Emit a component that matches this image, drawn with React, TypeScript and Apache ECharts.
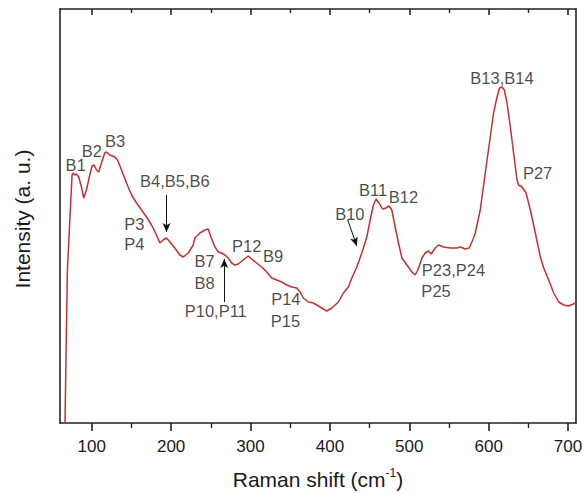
import React, { useEffect, useRef } from "react";
import * as echarts from "echarts";

// Raman shift (cm-1) and intensity (a.u.)
const ramanShift = [
  65.6, 66.3, 69.3, 75.2, 76.4, 78.6, 80.7, 83.6, 87.0, 89.9, 93.3, 97.5, 100.4, 102.9, 105.9, 108.8,
  112.2, 116.4, 118.5, 122.7, 129.0, 132.4, 137.5, 143.8, 150.1, 156.4, 162.7, 169.0, 175.3, 181.6,
  185.8, 190.0, 194.2, 198.4, 204.7, 211.0, 215.2, 221.5, 227.8, 229.9, 236.2, 242.5, 246.7, 250.1,
  255.2, 259.3, 263.6, 267.8, 271.9, 276.2, 280.4, 284.5, 290.8, 297.2, 301.4, 307.7, 314.1, 320.4,
  326.7, 333.0, 339.3, 345.6, 351.9, 358.2, 362.4, 366.5, 372.8, 379.1, 385.5, 391.8, 396.1, 402.4,
  410.7, 417.0, 423.3, 427.6, 433.9, 440.2, 446.5, 450.7, 454.8, 458.2, 462.0, 466.2, 470.5, 474.6,
  478.0, 482.2, 486.4, 490.7, 497.0, 503.3, 507.4, 510.8, 515.9, 520.0, 524.2, 527.6, 532.7, 536.8,
  543.1, 551.6, 560.0, 564.2, 570.5, 575.5, 581.0, 583.1, 589.4, 595.7, 602.0, 606.2, 610.5, 613.7,
  616.8, 619.7, 623.1, 627.3, 631.4, 635.7, 637.7, 642.0, 647.1, 652.5, 658.8, 665.1, 669.3, 675.6,
  681.9, 688.2, 694.5, 700.8, 709.3,
];
const intensity = [
  -10, 0, 153, 248, 250, 248, 249, 246, 236, 225, 233, 248, 257, 258, 253, 251,
  260, 270, 271, 268, 266, 263, 253, 240, 228, 220, 213, 206, 198, 188,
  180, 183, 185, 181, 175, 168, 166, 170, 178, 185, 190, 193, 194, 186,
  176, 171, 170, 168, 165, 160, 158, 159, 163, 167, 164, 160, 156, 151,
  145, 143, 141, 138, 136, 135, 131, 125, 121, 120, 117, 114, 112, 115,
  121, 130, 136, 145, 156, 170, 186, 203, 218, 224, 220, 214, 215, 217,
  213, 196, 180, 165, 158, 151, 148, 153, 165, 170, 172, 169, 175, 178,
  176, 175, 175, 176, 174, 175, 185, 190, 213, 250, 286, 310, 326, 335,
  336, 333, 320, 296, 270, 243, 238, 236, 230, 213, 190, 166, 155, 143,
  130, 121, 118, 117, 120,
];

// Peak annotations (label text and its centre in data coordinates)
const annotationText = [
  "B1", "B2", "B3", "B4,B5,B6", "P3", "P4", "B7", "B8", "P10,P11", "P12",
  "B9", "P14", "P15", "B10", "B11", "B12", "P23,P24", "P25", "B13,B14", "P27",
];
const annotationX = [
  79.8, 100, 129.4, 204.7, 153.6, 153.6, 242.2, 242.2, 256.2, 295.1,
  328.3, 344.5, 344.1, 425.1, 454.4, 492.7, 555.7, 533.7, 616.8, 661.6,
];
const annotationY = [
  258.3, 272.5, 281.7, 242, 199, 179, 162.5, 140.5, 112, 177,
  167.5, 124, 102, 209, 233, 226, 153.3, 132, 345, 250.5,
];

// Arrows: start and tip in data coordinates
const arrowFromX = [194.2, 266.9, 422.5];
const arrowFromY = [228, 121, 203];
const arrowToX = [194.2, 266.9, 433.9];
const arrowToY = [191, 164, 177];

const majorTicks = [100, 200, 300, 400, 500, 600, 700];
const minorTicks = [150, 250, 350, 450, 550, 650];

const X_MIN = 60;
const X_MAX = 710;
const Y_MIN = 0;
const Y_MAX = 414;

const AXIS_COLOR = "#222";
const TEXT_COLOR = "#1a1a1a";
const LINE_COLOR = "#c62f33";
const FONT = "Liberation Sans, Arial, sans-serif";

export default function App() {
  const ref = useRef<HTMLDivElement>(null);

  useEffect(() => {
    if (!ref.current) return;
    const chart = echarts.init(ref.current, null, { renderer: "svg" });

    const baseX = {
      type: "value",
      min: X_MIN,
      max: X_MAX,
      splitLine: { show: false },
      axisLabel: { show: false },
    };

    const option: any = {
      animation: false,
      backgroundColor: "#ffffff",
      textStyle: { fontFamily: FONT },
      grid: { left: 60, right: 8, top: 9, bottom: 70, outerBoundsMode: "none" },
      xAxis: [
        {
          ...baseX,
          position: "bottom",
          axisLine: { show: true, onZero: false, lineStyle: { color: AXIS_COLOR, width: 1.6 } },
          axisTick: {
            show: true,
            inside: false,
            length: 8,
            customValues: majorTicks,
            lineStyle: { color: AXIS_COLOR, width: 1.6 },
          },
          axisLabel: {
            show: true,
            customValues: majorTicks,
            margin: 15,
            fontSize: 17,
            color: TEXT_COLOR,
            fontFamily: FONT,
          },
        },
        {
          ...baseX,
          position: "bottom",
          axisLine: { show: false, onZero: false },
          axisTick: {
            show: true,
            inside: false,
            length: 5,
            customValues: minorTicks,
            lineStyle: { color: AXIS_COLOR, width: 1.4 },
          },
        },
        {
          ...baseX,
          position: "top",
          axisLine: { show: true, onZero: false, lineStyle: { color: AXIS_COLOR, width: 1.6 } },
          axisTick: {
            show: true,
            inside: true,
            length: 6,
            customValues: majorTicks,
            lineStyle: { color: AXIS_COLOR, width: 1.6 },
          },
        },
        {
          ...baseX,
          position: "top",
          axisLine: { show: false, onZero: false },
          axisTick: {
            show: true,
            inside: true,
            length: 4,
            customValues: minorTicks,
            lineStyle: { color: AXIS_COLOR, width: 1.4 },
          },
        },
      ],
      yAxis: [
        {
          type: "value",
          min: Y_MIN,
          max: Y_MAX,
          position: "left",
          splitLine: { show: false },
          axisLine: { show: true, onZero: false, lineStyle: { color: AXIS_COLOR, width: 1.6 } },
          axisTick: { show: false },
          axisLabel: { show: false },
        },
        {
          type: "value",
          min: Y_MIN,
          max: Y_MAX,
          position: "right",
          splitLine: { show: false },
          axisLine: { show: true, onZero: false, lineStyle: { color: AXIS_COLOR, width: 1.6 } },
          axisTick: { show: false },
          axisLabel: { show: false },
        },
      ],
      series: [
        {
          type: "line",
          xAxisIndex: 0,
          yAxisIndex: 0,
          data: ramanShift.map((x, i) => [x, intensity[i]]),
          showSymbol: false,
          symbol: "none",
          clip: true,
          lineStyle: { color: LINE_COLOR, width: 1.5 },
          itemStyle: { color: LINE_COLOR },
          markLine: {
            silent: true,
            symbol: ["none", "arrow"],
            symbolSize: [6, 9],
            label: { show: false },
            lineStyle: { color: "#111", width: 1, type: "solid" },
            data: arrowFromX.map((x, i) => [
              { coord: [x, arrowFromY[i]] },
              { coord: [arrowToX[i], arrowToY[i]] },
            ]),
          },
        },
        {
          type: "scatter",
          xAxisIndex: 0,
          yAxisIndex: 0,
          symbol: "circle",
          symbolSize: 1,
          silent: true,
          itemStyle: { color: "rgba(0,0,0,0)" },
          labelLayout: { hideOverlap: false },
          data: annotationX.map((x, i) => ({ value: [x, annotationY[i]], name: annotationText[i] })),
          label: {
            show: true,
            position: "inside",
            formatter: (p: any) => p.name,
            fontSize: 16.5,
            color: TEXT_COLOR,
            fontFamily: FONT,
            align: "center",
            verticalAlign: "middle",
          },
        },
      ],
      graphic: [
        {
          type: "text",
          x: 22,
          y: 219,
          rotation: Math.PI / 2,
          style: {
            text: "Intensity (a. u.)",
            fontSize: 21,
            fontFamily: FONT,
            fill: TEXT_COLOR,
            align: "center",
            verticalAlign: "middle",
          },
        },
        {
          type: "text",
          x: 318,
          y: 479,
          style: {
            text: "{a|Raman shift (cm}{s|-1}{a|)}",
            align: "center",
            verticalAlign: "middle",
            fill: TEXT_COLOR,
            rich: {
              a: { fontSize: 21, fontFamily: FONT, fill: TEXT_COLOR, lineHeight: 24 },
              s: { fontSize: 12, fontFamily: FONT, fill: TEXT_COLOR, verticalAlign: "top", lineHeight: 12 },
            },
          },
        },
      ],
    };

    chart.setOption(option);
    return () => chart.dispose();
  }, []);

  return (
    <div
      ref={ref}
      style={{ position: "fixed", left: 0, top: 0, width: 584, height: 493, background: "#fff" }}
    />
  );
}
